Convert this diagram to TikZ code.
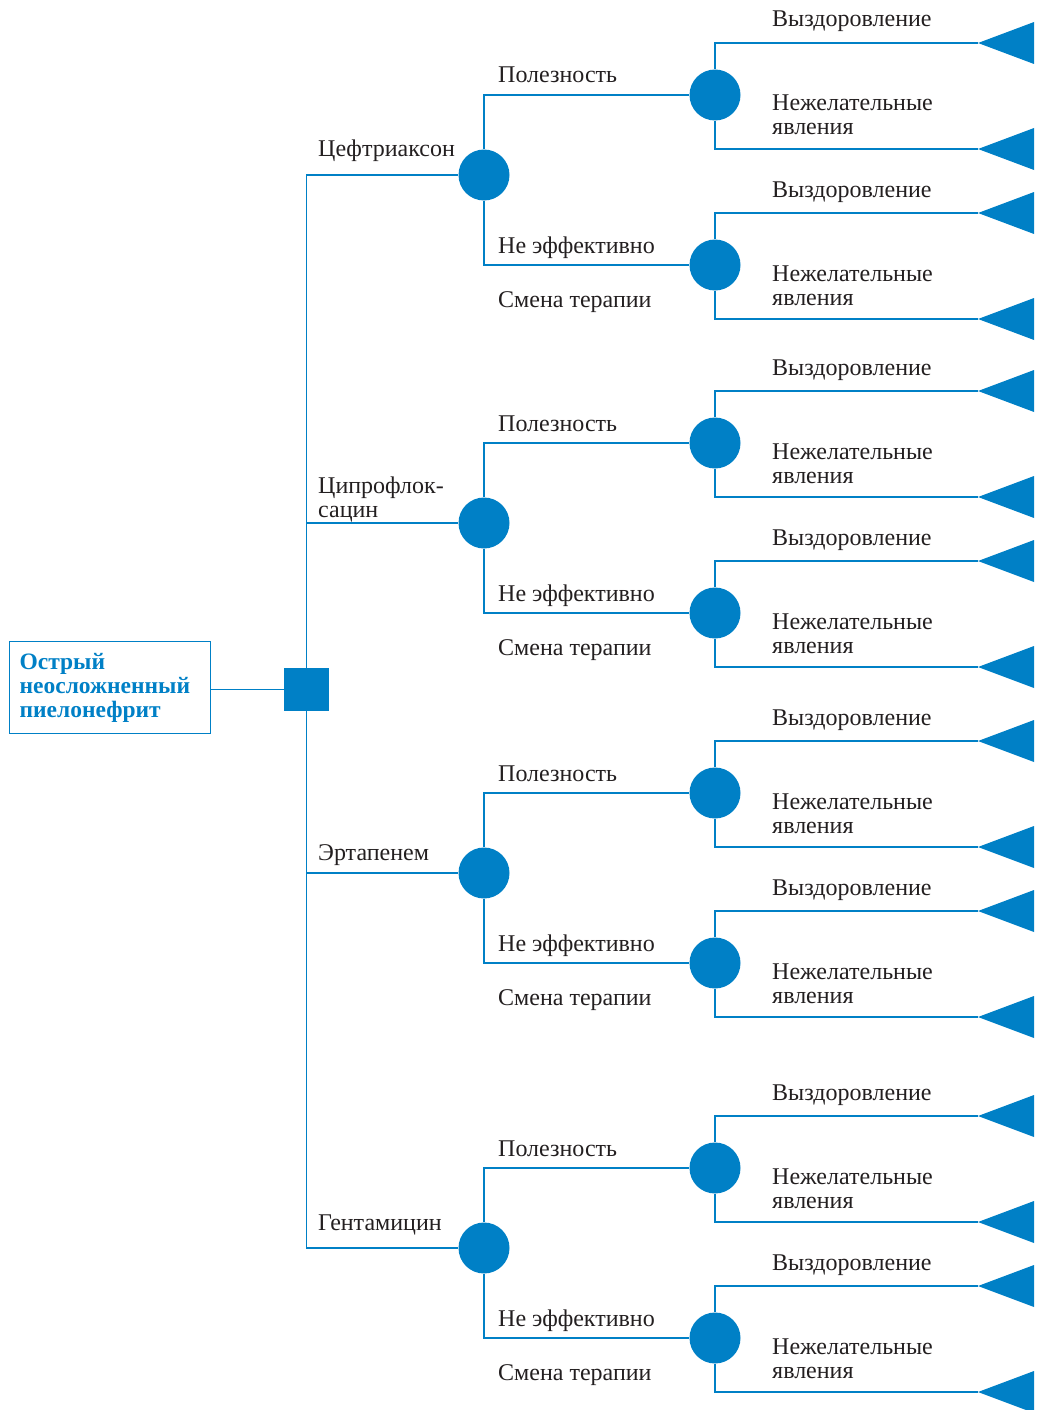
\documentclass[tikz,border=0pt]{standalone}
\usepackage{fontspec}
\setmainfont{Liberation Serif}
\definecolor{dblue}{HTML}{0080C6}
\definecolor{txt}{HTML}{231F20}
\begin{document}
\begin{tikzpicture}[x=1pt,y=-1pt,
  conn/.style={draw=dblue, line width=1.4pt},
  chance/.style={circle, fill=dblue, minimum size=51pt, inner sep=0pt},
  decision/.style={rectangle, fill=dblue, minimum width=45pt, minimum height=43pt, inner sep=0pt},
  lbl/.style={anchor=base west, font=\fontsize{24}{24}\selectfont, text=txt, inner sep=0pt, align=left},
  rootbox/.style={draw=dblue, line width=1.2pt, minimum width=201pt, minimum height=92pt,
    text width=181pt, inner xsep=10pt, inner ysep=0pt, align=left,
    font=\bfseries\fontsize{23.5}{24}\selectfont, text=dblue, anchor=north west}
]
\useasboundingbox (0,0) rectangle (1039,1410);

\node[rootbox] (root) at (9,641) {Острый\\неосложненный\\пиелонефрит};
\node[decision] (dec) at (306.5,689.5) {};
\draw[conn] (root.east |- dec) -- (dec);

\node[lbl] (n1) at (318,157) {Цефтриаксон};
\node[lbl] (n2) at (318,517) {Ципрофлок-\\сацин};
\node[lbl] (n3) at (318,860) {Эртапенем};
\node[lbl] (n4) at (318,1230) {Гентамицин};

\foreach \g/\cy in {1/175,2/523,3/873,4/1248} {
  \node[chance] (c\g) at (484,\cy) {};
  \draw[conn] (dec) |- (c\g);
  \foreach \s/\off in {1/-80,2/90} {
    \pgfmathsetmacro\sy{\cy+\off}
    \node[chance] (d\g\s) at (715,\sy) {};
    \draw[conn] (c\g) |- (d\g\s);
    \foreach \o/\oo in {1/-52,2/54} {
      \pgfmathsetmacro\ty{\sy+\oo}
      \coordinate (t\g\s\o) at (978,\ty);
      \fill[dblue] (t\g\s\o) -- ++(56,-21) -- ++(0,42) -- cycle;
      \draw[conn] (d\g\s) |- (t\g\s\o);
    }
    \node[lbl] (v\g\s) at (772,\sy-52-16) {Выздоровление};
    \node[lbl] (a\g\s) at (772,\sy+40) {Нежелательные\\явления};
  }
  \node[lbl] (p\g) at (498,\cy-80-12) {Полезность};
  \node[lbl] (e\g) at (498,\cy+90-12) {Не эффективно};
  \node[lbl] (s\g) at (498,\cy+90+42) {Смена терапии};
}
\end{tikzpicture}
\end{document}
